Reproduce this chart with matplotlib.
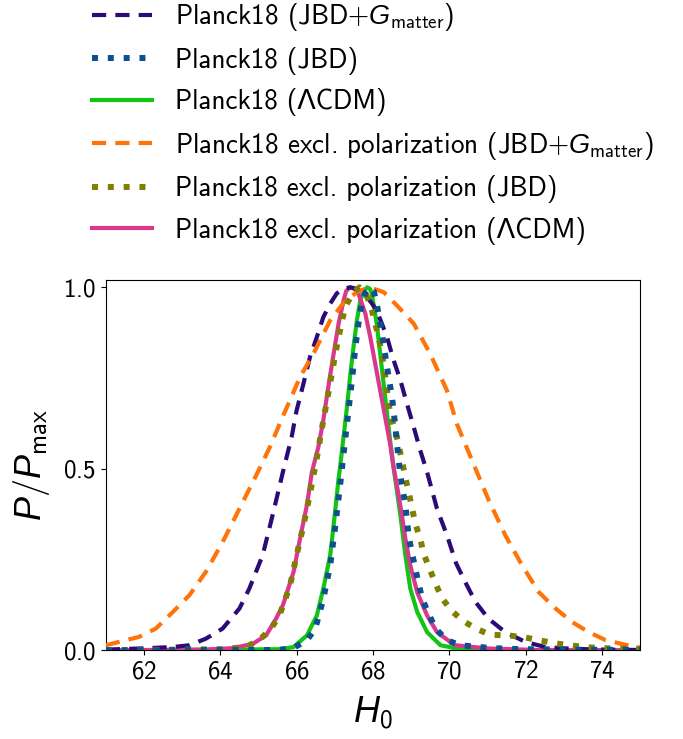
import matplotlib
matplotlib.use('Agg')
import matplotlib.pyplot as plt

plt.rcParams['font.family'] = ['cmss10', 'DejaVu Sans']
plt.rcParams['mathtext.fontset'] = 'custom'
plt.rcParams['mathtext.rm'] = 'cmss10'
plt.rcParams['mathtext.it'] = 'Liberation Sans:italic'
plt.rcParams['mathtext.bf'] = 'cmss10'
plt.rcParams['axes.unicode_minus'] = False
plt.rcParams['axes.formatter.use_mathtext'] = True

# ---------------- data ----------------
labels = [
    r'Planck18 (JBD+$G_{\rm matter}$)',
    'Planck18 (JBD)',
    'Planck18 (ΛCDM)',
    r'Planck18 excl. polarization (JBD+$G_{\rm matter}$)',
    'Planck18 excl. polarization (JBD)',
    'Planck18 excl. polarization (ΛCDM)',
]

p18_jbdg_x = [61.0, 61.87, 62.75, 63.19, 63.62, 64.06, 64.5, 64.76, 65.11, 65.37, 65.64,
              65.87, 66.0, 66.18, 66.35, 66.53, 66.7, 66.88, 67.05, 67.22, 67.4, 67.58,
              67.75, 67.92, 68.1, 68.37,
              68.54, 68.72, 68.89, 69.07, 69.24, 69.42, 69.68, 69.94, 70.18, 70.42, 70.69,
              71.03, 71.47, 72.0, 72.52, 73.22, 74.1, 75.0]
p18_jbdg_y = [0.002, 0.005, 0.009, 0.014, 0.032, 0.06, 0.115, 0.17, 0.262, 0.372, 0.491,
              0.588, 0.661, 0.735, 0.808, 0.863, 0.918, 0.955, 0.983, 0.996, 1.0, 0.996,
              0.983, 0.963, 0.937, 0.863,
              0.8, 0.744, 0.68, 0.615, 0.551, 0.491, 0.39, 0.317, 0.24, 0.188, 0.133,
              0.087, 0.05, 0.023, 0.009, 0.004, 0.002, 0.001]

p18_jbd_x = [61.0, 65.5, 65.91, 66.27, 66.49, 66.7, 66.88, 67.01, 67.14, 67.27, 67.36,
             67.45, 67.54, 67.62, 67.7, 67.8, 67.93, 68.02, 68.1, 68.24, 68.37, 68.5, 68.59,
             68.63, 68.72,
             68.85, 68.94, 69.11, 69.29, 69.46, 69.64, 69.94, 70.29, 71.12, 71.91, 73.0, 75.0]
p18_jbd_y = [0.0, 0.001, 0.006, 0.028, 0.06, 0.142, 0.234, 0.34, 0.455, 0.579, 0.661,
             0.744, 0.835, 0.9, 0.95, 0.985, 1.0, 0.99, 0.955, 0.872, 0.78, 0.698, 0.615,
             0.569, 0.482,
             0.4, 0.312, 0.225, 0.142, 0.101, 0.06, 0.028, 0.014, 0.006, 0.003, 0.002, 0.001]

p18_lcdm_x = [61.0, 65.57, 65.92, 66.27, 66.53, 66.7, 66.88, 66.97, 67.1, 67.14, 67.23,
              67.32, 67.4, 67.49, 67.58, 67.67, 67.76, 67.85, 67.92, 67.97, 68.1, 68.19,
              68.28, 68.37,
              68.45, 68.54, 68.72, 68.85, 68.98, 69.16, 69.42, 69.77, 70.2, 70.8, 75.0]
p18_lcdm_y = [0.0, 0.003, 0.009, 0.041, 0.096, 0.17, 0.262, 0.344, 0.473, 0.505, 0.588,
              0.67, 0.753, 0.835, 0.909, 0.964, 0.99, 1.0, 0.996, 0.983, 0.9, 0.817,
              0.735, 0.652,
              0.579, 0.505, 0.372, 0.262, 0.17, 0.106, 0.05, 0.014, 0.005, 0.001, 0.0]

nopol_jbdg_x = [61.0, 61.87, 62.31, 62.75, 63.19, 63.62, 64.06, 64.5, 64.94, 65.3, 65.6,
                65.83, 66.09, 66.44, 66.88, 67.22, 67.58, 67.9, 68.28, 68.63, 69.07, 69.5,
                69.94, 70.2, 70.69, 71.03, 71.47, 71.91, 72.35, 72.79, 73.22, 73.66, 74.1,
                74.88, 75.0]
nopol_jbdg_y = [0.014, 0.037, 0.06, 0.105, 0.152, 0.216, 0.298, 0.39, 0.482, 0.56, 0.635,
                0.69, 0.753, 0.817, 0.909, 0.956, 0.987, 1.0, 0.987, 0.95, 0.9, 0.817,
                0.716, 0.624, 0.5, 0.415, 0.317, 0.234, 0.16, 0.115, 0.078, 0.05, 0.028,
                0.009, 0.008]

nopol_jbd_x = [61.0, 64.0, 64.67, 65.02, 65.33, 65.55, 65.83, 66.0, 66.18, 66.35, 66.53,
               66.66, 66.8, 66.97, 67.1, 67.27, 67.49, 67.65, 67.8, 67.93, 68.06, 68.15,
               68.28,
               68.37, 68.45, 68.59, 68.76, 68.85, 69.02, 69.11, 69.24, 69.33, 69.64, 69.81,
               70.05, 70.34, 70.69, 71.08, 71.52, 71.91, 72.3, 72.74, 73.13, 73.57, 73.97,
               74.4, 75.0]
nopol_jbd_y = [0.0, 0.003, 0.009, 0.028, 0.06, 0.096, 0.179, 0.262, 0.344, 0.432, 0.53,
               0.61, 0.69, 0.79, 0.863, 0.946, 0.987, 1.0, 0.985, 0.955, 0.9, 0.863,
               0.79,
               0.716, 0.652, 0.606, 0.523, 0.477, 0.395, 0.349, 0.308, 0.266, 0.184, 0.144,
               0.11, 0.083, 0.06, 0.043, 0.041, 0.037, 0.029, 0.02, 0.014, 0.009, 0.006,
               0.005, 0.004]

nopol_lcdm_x = [61.0, 63.62, 64.33, 64.85, 65.2, 65.46, 65.64, 65.92, 66.09, 66.27, 66.4,
                66.57, 66.7, 66.83, 66.97, 67.1, 67.23, 67.3, 67.4, 67.5, 67.62, 67.8,
                67.93, 68.06,
                68.19, 68.32, 68.45, 68.54, 68.62, 68.76, 68.85, 68.98, 69.16, 69.42, 69.68,
                70.03, 70.16, 71.03, 72.3, 75.0]
nopol_lcdm_y = [0.0, 0.002, 0.006, 0.018, 0.041, 0.087, 0.124, 0.216, 0.308, 0.4, 0.491,
                0.56, 0.634, 0.725, 0.817, 0.9, 0.964, 0.99, 1.0, 0.997, 0.983, 0.928,
                0.863, 0.79,
                0.716, 0.643, 0.569, 0.505, 0.46, 0.372, 0.308, 0.234, 0.16, 0.096, 0.05,
                0.023, 0.014, 0.005, 0.001, 0.0]

xs = [p18_jbdg_x, p18_jbd_x, p18_lcdm_x, nopol_jbdg_x, nopol_jbd_x, nopol_lcdm_x]
ys = [p18_jbdg_y, p18_jbd_y, p18_lcdm_y, nopol_jbdg_y, nopol_jbd_y, nopol_lcdm_y]

xticks = [62, 64, 66, 68, 70, 72, 74]
yticks = [0.0, 0.5, 1.0]

# ---------------- styles ----------------
colors = ['#2c0a78', '#0d4f8f', '#14c414', '#ff7308', '#808000', '#d8398d']
kinds = ['dash', 'dot', 'solid', 'dash', 'dot', 'solid']
zorders = [3, 5, 2, 3, 4, 2]

fig = plt.figure(figsize=(6.83, 7.39), dpi=100)
ax = fig.add_axes([0.155, 0.120, 0.782, 0.501])

for x, y, lab, c, k, z in zip(xs, ys, labels, colors, kinds, zorders):
    if k == 'dash':
        ax.plot(x, y, color=c, lw=3, linestyle=(0, (3.4, 2.2)), label=lab, zorder=z)
    elif k == 'dot':
        ax.plot(x, y, color=c, lw=4.3, linestyle=(0, (1, 1.65)), label=lab, zorder=z)
    else:
        ax.plot(x, y, color=c, lw=3, linestyle='-', label=lab, zorder=z)

ax.set_xlim(61, 75)
ax.set_ylim(0, 1.02)
ax.set_xticks(xticks)
ax.set_yticks(yticks)
ax.tick_params(labelsize=18)
ax.set_xlabel(r'$H_0$', fontsize=26, labelpad=8)
ax.set_ylabel(r'$P/P_{\rm max}$', fontsize=26, labelpad=8)

ax.legend(loc='lower center', bbox_to_anchor=(0.5, 1.029), frameon=False, fontsize=19.5,
          handlelength=2.2, handletextpad=0.85, labelspacing=0.5, borderaxespad=0.5)

fig.savefig('out.png', dpi=100)
